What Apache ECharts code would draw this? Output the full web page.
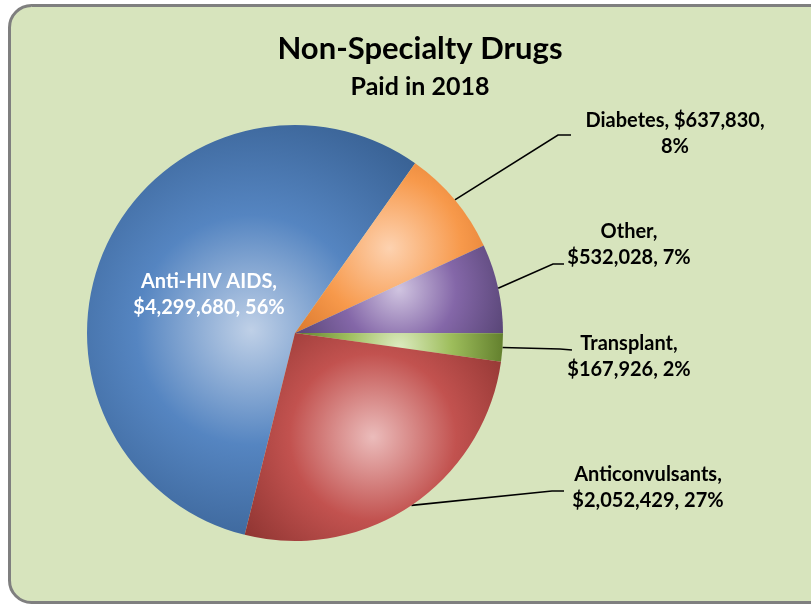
<!DOCTYPE html>
<html>
<head>
<meta charset="utf-8">
<script src="https://cdn.jsdelivr.net/npm/echarts@6/dist/echarts.min.js"></script>
<style>
  html, body { margin: 0; padding: 0; background: #ffffff; }
  #chart { width: 811px; height: 606px; }
</style>
</head>
<body>
<div id="chart"></div>
<script>
// Non-specialty drug spend, paid in 2018
const categories = ['Anti-HIV AIDS', 'Diabetes', 'Other', 'Transplant', 'Anticonvulsants'];
const amounts = [4299680, 637830, 532028, 167926, 2052429];
const percents = [56, 8, 7, 2, 27];

// Slice shading: light centre -> base -> darker rim, plus gradient spread
const shades = [
  { c: ['#bfd0e7', '#5585c1', '#3a6396'], mid: 0.5, r: 0.7 },
  { c: ['#fdd2b0', '#f7994b', '#d26f25'], mid: 0.5, r: 0.85 },
  { c: ['#d0c4e0', '#8467a8', '#584576'], mid: 0.5, r: 1.3 },
  { c: ['#dcebc0', '#9dbd5b', '#617e2c'], mid: 0.5, r: 3.7 },
  { c: ['#ebbcbb', '#c2524f', '#8c3330'], mid: 0.5, r: 0.8 }
];

// Label anchors (text centre) and leader-line bend points for outside labels
const labelSpots = [
  { cx: 209, cy: 295 },
  { cx: 675, cy: 134, bend: [558, 135], end: [571, 135] },
  { cx: 629, cy: 245, bend: [553, 264], end: [564, 264] },
  { cx: 629, cy: 357, bend: [560, 349], end: [572, 350] },
  { cx: 648, cy: 488, bend: [552, 491], end: [564, 491] }
];

function money(v) {
  return '$' + v.toLocaleString('en-US');
}

const data = categories.map((name, i) => ({
  name: name,
  value: amounts[i],
  itemStyle: {
    color: {
      type: 'radial', x: 0.5, y: 0.5, r: shades[i].r,
      colorStops: [
        { offset: 0, color: shades[i].c[0] },
        { offset: shades[i].mid, color: shades[i].c[1] },
        { offset: 1, color: shades[i].c[2] }
      ]
    }
  },
  label: i === 0 ? { position: 'inside', color: '#ffffff' } : {},
  labelLine: i === 0 ? { show: false } : {}
}));

const chart = echarts.init(document.getElementById('chart'), null, { renderer: 'canvas' });

chart.setOption({
  animation: false,
  backgroundColor: 'transparent',
  graphic: [{
    type: 'rect',
    z: -10,
    shape: { x: 9.5, y: 5.5, width: 830, height: 597, r: 22 },
    style: { fill: '#d7e4bd', stroke: '#7f7f7f', lineWidth: 3 }
  }],
  title: {
    text: 'Non-Specialty Drugs',
    subtext: 'Paid in 2018',
    left: 415,
    top: 28,
    textAlign: 'center',
    itemGap: 10,
    textStyle: { fontFamily: 'Lato', fontWeight: 'bold', fontSize: 31, color: '#000000' },
    subtextStyle: { fontFamily: 'Lato', fontWeight: 'bold', fontSize: 25, color: '#000000' }
  },
  series: [{
    type: 'pie',
    center: [295, 333],
    radius: 208,
    startAngle: 256,
    clockwise: true,
    data: data,
    itemStyle: { borderWidth: 0 },
    label: {
      show: true,
      position: 'outside',
      fontFamily: 'Lato',
      fontWeight: 'bold',
      fontSize: 20,
      lineHeight: 26,
      color: '#000000',
      align: 'center',
      formatter: function (p) {
        const i = p.dataIndex;
        if (i === 1) return p.name + ', ' + money(amounts[i]) + ',\n' + percents[i] + '%';
        return p.name + ',\n' + money(amounts[i]) + ', ' + percents[i] + '%';
      }
    },
    labelLine: {
      show: true,
      lineStyle: { color: '#000000', width: 1.6 }
    },
    labelLayout: function (params) {
      const s = labelSpots[params.dataIndex];
      if (!s.bend) {
        return { x: s.cx, y: s.cy, align: 'center', verticalAlign: 'middle' };
      }
      const start = params.labelLinePoints ? params.labelLinePoints[0] : s.bend;
      return {
        x: s.cx,
        y: s.cy,
        align: 'center',
        verticalAlign: 'middle',
        labelLinePoints: [start, s.bend, s.end]
      };
    }
  }]
});
</script>
</body>
</html>
